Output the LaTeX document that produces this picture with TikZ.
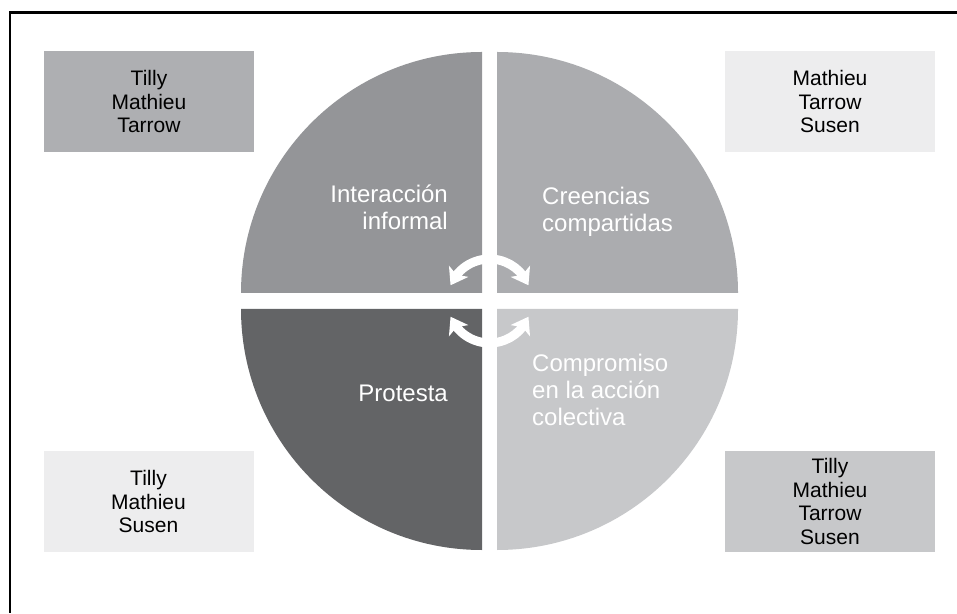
\documentclass[tikz,border=0pt]{standalone}
\usepackage{fontspec}
\setmainfont{Liberation Sans}
\usetikzlibrary{arrows.meta,bending,calc}
\definecolor{qtl}{HTML}{949598}
\definecolor{qtr}{HTML}{ABACAF}
\definecolor{qbl}{HTML}{636466}
\definecolor{qbr}{HTML}{C7C8CA}
\definecolor{bmid}{HTML}{AEAFB2}
\definecolor{blight}{HTML}{EDEDEE}
\definecolor{bbr}{HTML}{C7C8CA}
\begin{document}
\begin{tikzpicture}[x=1pt,y=1pt,
  boxnode/.style={minimum width=210pt, minimum height=101pt, inner sep=0pt, align=center, text=black, font=\fontsize{21}{23.5}\selectfont},
  qtext/.style={text=white, inner sep=0pt, font=\fontsize{24}{27}\selectfont},
  cyc/.style={white, line width=9pt, {Stealth[width=22pt,length=16pt,inset=4pt]}-{Stealth[width=22pt,length=16pt,inset=4pt]}}]
\useasboundingbox (0,0) rectangle (957,613);
\draw[line width=2.5pt] (957,600.5) -- (10,600.5) -- (10,0);
% quadrants
\fill[qtl] (482,320) -- ++(-241,0) arc[start angle=180, end angle=90, radius=241] -- cycle;
\fill[qtr] (497,320) -- ++(0,241) arc[start angle=90, end angle=0, radius=241] -- cycle;
\fill[qbl] (482,304) -- ++(0,-241) arc[start angle=270, end angle=180, radius=241] -- cycle;
\fill[qbr] (497,304) -- ++(241,0) arc[start angle=0, end angle=-90, radius=241] -- cycle;
% cycle arrows
\coordinate (c) at (489.5,312);
\draw[cyc] ($(c)+(158:42)$) arc[start angle=158, end angle=22, radius=42];
\draw[cyc] ($(c)+(202:42)$) arc[start angle=202, end angle=338, radius=42];
% quadrant texts
\node[qtext, align=right, anchor=east] (tinter) at (448,406) {Interacción\\informal};
\node[qtext, align=left, anchor=west] (tcre) at (542,401) {Creencias\\compartidas};
\node[qtext, anchor=east] (tprot) at (448,220) {Protesta};
\node[qtext, align=left, anchor=west] (tcomp) at (532,223) {Compromiso\\en la acción\\colectiva};
% boxes
\node[boxnode, fill=bmid] (btl) at (149,511.5) {Tilly\\Mathieu\\Tarrow};
\node[boxnode, fill=blight] (btr) at (830,511.5) {Mathieu\\Tarrow\\Susen};
\node[boxnode, fill=blight] (bbl) at (148.5,111.5) {Tilly\\Mathieu\\Susen};
\node[boxnode, fill=bbr] (bbrn) at (830,111.5) {Tilly\\Mathieu\\Tarrow\\Susen};
\end{tikzpicture}
\end{document}
